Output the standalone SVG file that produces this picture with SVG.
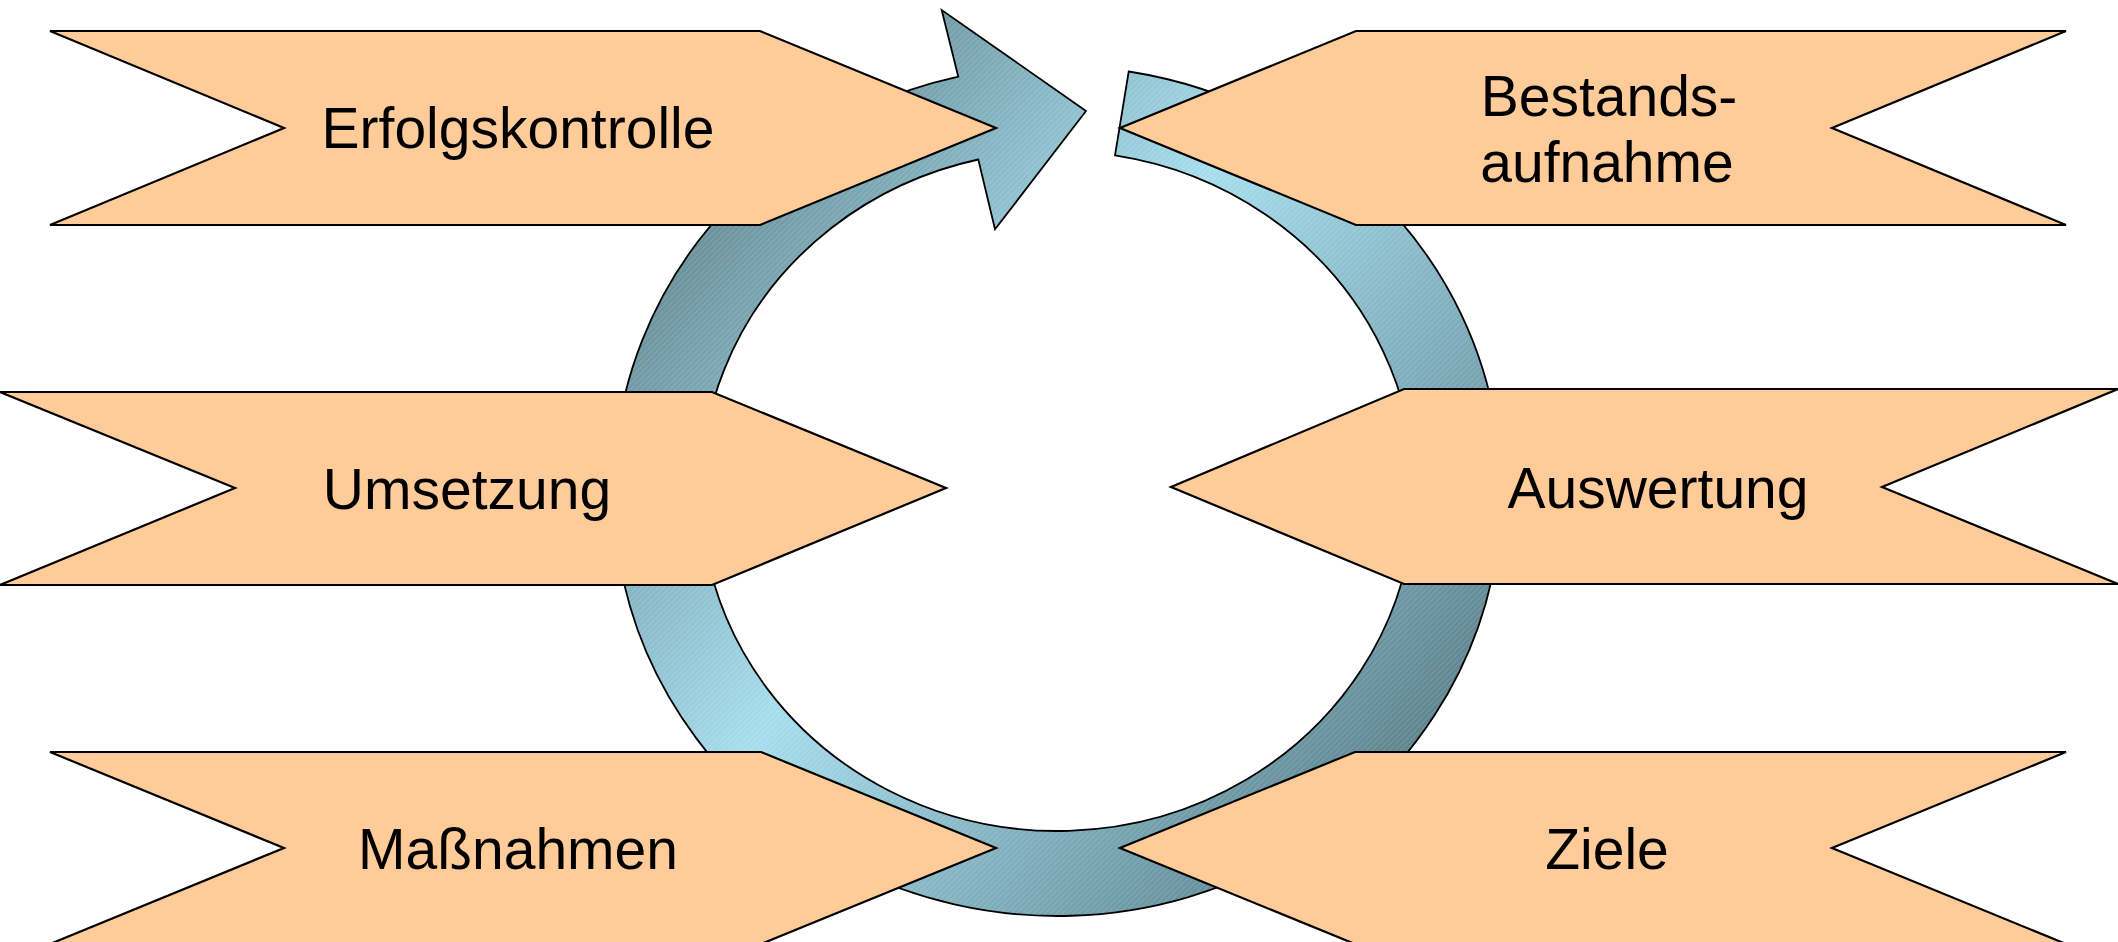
<svg xmlns="http://www.w3.org/2000/svg" width="2118" height="942" viewBox="0 0 2118 942">
  <style>
    .chev { fill: #FFCC99; stroke: #000000; stroke-width: 2.2; stroke-linejoin: miter; }
    .lbl { font-family: "Liberation Sans", Arial, sans-serif; font-size: 57px; fill: #000000; text-anchor: middle; }
  </style>
  <defs>
    <linearGradient id="ringGrad" gradientUnits="userSpaceOnUse" x1="672" y1="285" x2="1351" y2="831">
      <stop offset="0" stop-color="#6A929D"/>
      <stop offset="0.4" stop-color="#A5DDEE"/>
      <stop offset="1" stop-color="#5B838E"/>
    </linearGradient>
    <pattern id="hatch" patternUnits="userSpaceOnUse" width="4" height="4" patternTransform="rotate(45)">
      <line x1="1" y1="0" x2="1" y2="4" stroke="#FFFFFF" stroke-opacity="0.22" stroke-width="0.9"/>
    </pattern>
  </defs>
  <rect width="2118" height="942" fill="#FFFFFF"/>

  <g id="connectors">
    <path id="cycle-arrow" d="M1128.7,71.5 A444,425 0 1 1 958.3,76.7 L941.7,10 L1086,111 L995,229.3 L978.3,159.5 A357,340 0 1 0 1115,155.4 Z" fill="url(#ringGrad)"/>
    <path d="M1128.7,71.5 A444,425 0 1 1 958.3,76.7 L941.7,10 L1086,111 L995,229.3 L978.3,159.5 A357,340 0 1 0 1115,155.4 Z" fill="url(#hatch)" stroke="#000000" stroke-width="1.8" stroke-linejoin="miter"/>
  </g>

  <g id="node-erfolgskontrolle">
    <polygon class="chev" points="50,31 760,31 996,128 760,225 50,225 284,128"/>
    <text class="lbl" x="518" y="148">Erfolgskontrolle</text>
  </g>
  <g id="node-umsetzung">
    <polygon class="chev" points="0,392 712,392 946,488 712,585 0,585 235,488"/>
    <text class="lbl" x="467" y="509">Umsetzung</text>
  </g>
  <g id="node-massnahmen">
    <polygon class="chev" points="50,752 761,752 996,848 761,944 50,944 284,848"/>
    <text class="lbl" x="518" y="869">Maßnahmen</text>
  </g>
  <g id="node-bestandsaufnahme">
    <polygon class="chev" points="1356,31 2066,31 1832,128 2066,225 1356,225 1120,128"/>
    <text class="lbl"><tspan x="1609" y="116">Bestands-</tspan><tspan x="1607" y="182">aufnahme</tspan></text>
  </g>
  <g id="node-auswertung">
    <polygon class="chev" points="1404,389 2118,389 1882,487 2118,584 1404,584 1171,487"/>
    <text class="lbl" x="1658" y="508">Auswertung</text>
  </g>
  <g id="node-ziele">
    <polygon class="chev" points="1355,752 2066,752 1832,848 2066,944 1355,944 1120,848"/>
    <text class="lbl" x="1607" y="869">Ziele</text>
  </g>
</svg>
